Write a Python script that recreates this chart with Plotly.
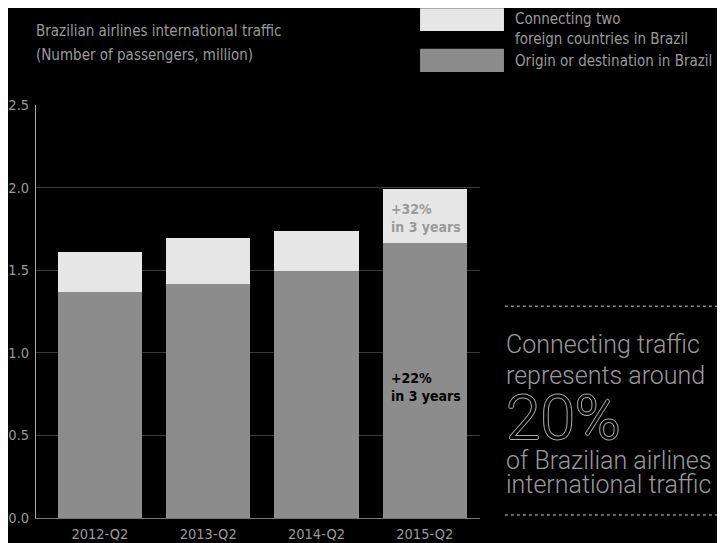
import plotly.graph_objects as go

categories = ["2012-Q2", "2013-Q2", "2014-Q2", "2015-Q2"]
origin_destination = [1.37, 1.415, 1.495, 1.665]
connecting = [0.24, 0.28, 0.24, 0.325]
y_ticks = [0.0, 0.5, 1.0, 1.5, 2.0, 2.5]
y_tick_labels = ["0.0", "0.5", "1.0", "1.5", "2.0", "2.5"]

LIGHT = "#e6e6e6"
MID = "#8c8c8c"
TXT = "#9a9a9a"
COND = "Liberation Sans Narrow, DejaVu Sans Condensed, Arial Narrow, sans-serif"
LIGHTFONT = "Roboto, Lato, Liberation Sans, sans-serif"

fig = go.Figure()
fig.add_bar(x=categories, y=origin_destination, marker_color=MID, marker_line_width=0,
            name="Origin or destination in Brazil", width=0.78)
fig.add_bar(x=categories, y=connecting, marker_color=LIGHT, marker_line_width=0,
            name="Connecting two foreign countries in Brazil", width=0.78)

# page body has an 8px margin, so the figure is sized/offset to compensate
fig.update_layout(
    barmode="stack",
    width=717, height=535,
    margin=dict(l=28, r=245, t=97, b=25),
    paper_bgcolor="black", plot_bgcolor="black",
    showlegend=False,
    font=dict(family=COND, color=TXT, size=14),
    xaxis=dict(range=[-0.59, 3.51], showgrid=False, showline=True, linecolor="#777",
               linewidth=1, ticks="", tickfont=dict(size=14.5, color=TXT, family=COND),
               ticklabelstandoff=3, zeroline=False, automargin=False),
    yaxis=dict(range=[0, 2.5], tickvals=y_ticks, ticktext=y_tick_labels,
               showgrid=True, gridcolor="#3a3a3a", gridwidth=1,
               showline=True, linecolor="#aaaaaa", linewidth=1,
               zeroline=False, ticks="", ticklabelstandoff=3, automargin=False,
               tickfont=dict(size=14.5, color=TXT, family=COND)),
)

# Title (two lines)
fig.add_annotation(xref="paper", yref="paper", x=-0.004, y=1.180, xanchor="left", yanchor="middle",
                   showarrow=False, text="Brazilian airlines international traffic",
                   font=dict(size=15, color=TXT, family=COND))
fig.add_annotation(xref="paper", yref="paper", x=-0.004, y=1.120, xanchor="left", yanchor="middle",
                   showarrow=False, text="(Number of passengers, million)",
                   font=dict(size=15, color=TXT, family=COND))

# Legend (custom)
fig.add_shape(type="rect", xref="paper", yref="paper", x0=0.865, x1=1.054, y0=1.179, y1=1.234,
              fillcolor=LIGHT, line_width=0)
fig.add_shape(type="rect", xref="paper", yref="paper", x0=0.865, x1=1.054, y0=1.080, y1=1.136,
              fillcolor=MID, line_width=0)
fig.add_annotation(xref="paper", yref="paper", x=1.075, y=1.234, xanchor="left", yanchor="top",
                   showarrow=False, align="left",
                   text="Connecting two<br>foreign countries in Brazil",
                   font=dict(size=15, color=TXT, family=COND))
fig.add_annotation(xref="paper", yref="paper", x=1.075, y=1.106, xanchor="left", yanchor="middle",
                   showarrow=False, align="left",
                   text="Origin or destination in Brazil",
                   font=dict(size=15, color=TXT, family=COND))

# Bar annotations
fig.add_annotation(xref="x", yref="y", x=categories[3], y=1.816, xshift=-36, xanchor="left",
                   yanchor="middle", showarrow=False, align="left",
                   text="<b>+32%<br>in 3 years</b>", font=dict(size=14, color=TXT, family=COND))
fig.add_annotation(xref="x", yref="y", x=categories[3], y=0.793, xshift=-36, xanchor="left",
                   yanchor="middle", showarrow=False, align="left",
                   text="<b>+22%<br>in 3 years</b>", font=dict(size=14, color="black", family=COND))

# Right side callout
for y0 in [0.513, 0.0073]:
    fig.add_shape(type="line", xref="paper", yref="paper", x0=1.056, x1=1.56, y0=y0, y1=y0,
                  line=dict(color="#888", width=1.5, dash="dot"))

callout = [
    ("Connecting traffic", 0.421),
    ("represents around", 0.345),
    ("of Brazilian airlines", 0.139),
    ("international traffic", 0.080),
]
for txt, yy in callout:
    fig.add_annotation(xref="paper", yref="paper", x=1.054, y=yy, xanchor="left", yanchor="middle",
                       showarrow=False, text=txt,
                       font=dict(size=25, color=TXT, family=LIGHTFONT, weight=300))
fig.add_annotation(xref="paper", yref="paper", x=1.054, y=0.243, xanchor="left", yanchor="middle",
                   showarrow=False, text="20%",
                   font=dict(size=62, color="black", family=LIGHTFONT, weight=300,
                             shadow="1px 0 0 #aaa, -1px 0 0 #aaa, 0 1px 0 #aaa, 0 -1px 0 #aaa"))

fig.write_html("out.html")
